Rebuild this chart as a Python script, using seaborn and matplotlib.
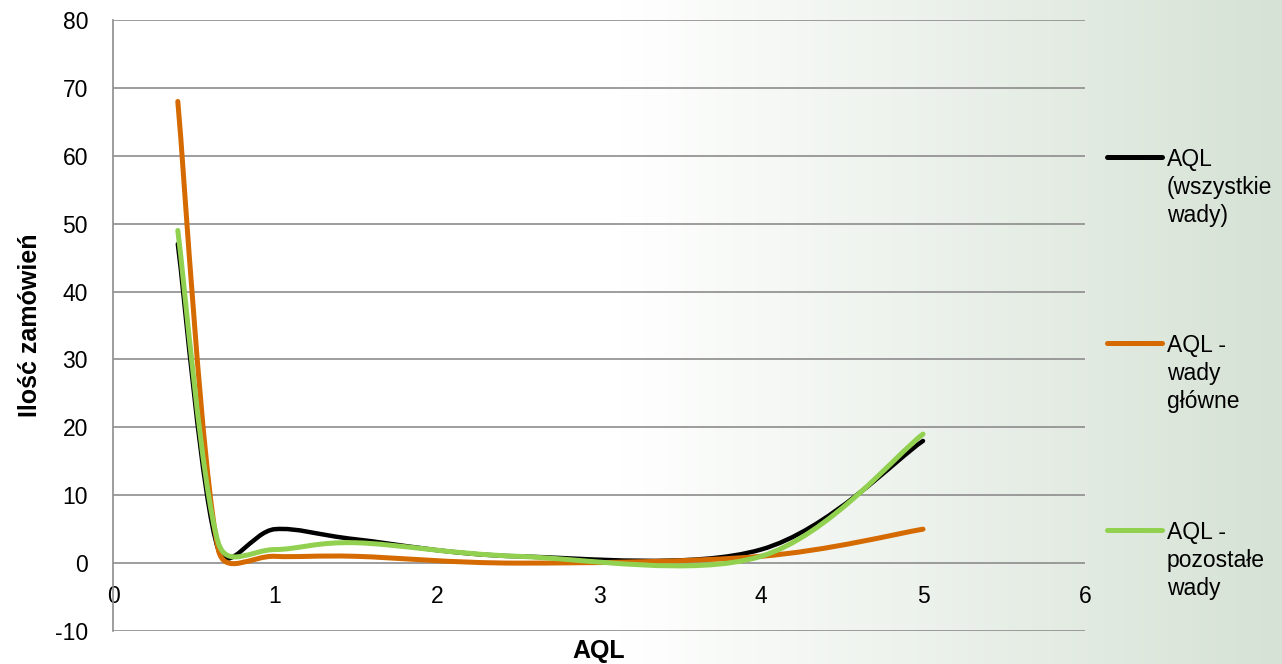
import numpy as np
import pandas as pd
import matplotlib
matplotlib.use("Agg")
import matplotlib.pyplot as plt
import seaborn as sns
from matplotlib.path import Path
from matplotlib.patches import PathPatch
from matplotlib.lines import Line2D

# data
aql = [0.4, 0.65, 1.0, 1.5, 2.5, 4.0, 5.0]
wszystkie = [47, 2, 5, 3.5, 1, 2, 18]
glowne = [68, 2, 1, 1, 0, 1, 5]
pozostale = [49, 3, 2, 3, 1, 1, 19]

series_names = ["AQL\n(wszystkie\nwady)", "AQL -\nwady\ngłówne", "AQL -\npozostałe\nwady"]
series_colors = ["#000000", "#D46A00", "#92D050"]
y_ticks = list(range(-10, 90, 10))
x_ticks = list(range(0, 7))

df = pd.DataFrame({"AQL": aql * 3,
                   "value": wszystkie + glowne + pozostale,
                   "series": sum([[s] * len(aql) for s in series_names], [])})

sns.set_theme(style="white")
plt.rcParams['font.family'] = ['Liberation Sans', 'DejaVu Sans']
plt.rcParams['axes.unicode_minus'] = False
plt.rcParams['text.color'] = 'black'
plt.rcParams['axes.labelcolor'] = 'black'

W, H = 1282, 664
fig = plt.figure(figsize=(W / 100, H / 100), dpi=100)

# gradient background (white -> pale green on the right)
bg = fig.add_axes([0, 0, 1, 1], zorder=-10)
xs = np.linspace(0, 1, W)
frac = np.clip((xs * W - 620) / (W - 620), 0, 1)
start = np.array([255, 255, 255]) / 255
end = np.array([214, 226, 213]) / 255
grad = start[None, :] * (1 - frac[:, None]) + end[None, :] * frac[:, None]
bg.imshow(grad[None, :, :], aspect='auto', extent=[0, 1, 0, 1])
bg.axis('off')

ax = fig.add_axes([113 / W, 33 / H, (1085 - 113) / W, (631 - 20) / H])
ax.set_facecolor('none')
ax.set_xlim(0, 6)
ax.set_ylim(-10, 80)
ax.set_yticks(y_ticks)
ax.set_xticks(x_ticks)
ax.yaxis.grid(True, color='#8c8c8c', linewidth=1.2)
ax.xaxis.grid(False)
ax.set_axisbelow(True)
for s in ['top', 'right']:
    ax.spines[s].set_visible(False)
ax.spines['left'].set_color('#8c8c8c')
ax.spines['left'].set_linewidth(1.2)
ax.spines['bottom'].set_position(('data', 0))
ax.spines['bottom'].set_visible(False)
ax.tick_params(axis='x', length=0, pad=16, labelsize=16.5, colors='black')
ax.tick_params(axis='y', length=0, pad=18, labelsize=16.5, colors='black')
ax.set_ylabel('Ilość zamówień', fontsize=18, fontweight='bold', labelpad=9)
ax.set_xlabel('')
fig.text(599 / W, 1 - 651 / H, 'AQL', fontsize=18, fontweight='bold', ha='center', va='center')


def smooth_path(ax, xv, yv):
    # Excel-like smoothed line: cubic bezier through the points
    pts = ax.transData.transform(np.column_stack([xv, yv]))
    n = len(pts)
    verts = [pts[0]]
    codes = [Path.MOVETO]
    for i in range(n - 1):
        p0 = pts[i - 1] if i > 0 else pts[i]
        p1 = pts[i]
        p2 = pts[i + 1]
        p3 = pts[i + 2] if i + 2 < n else pts[i + 1]
        d02 = np.linalg.norm(p2 - p0)
        d12 = np.linalg.norm(p2 - p1)
        d13 = np.linalg.norm(p3 - p1)
        f = g = 1 / 6
        if d02 / 6 >= d12 / 2 and d02 > 0:
            f = d12 / d02 / 2
        if d13 / 6 >= d12 / 2 and d13 > 0:
            g = d12 / d13 / 2
        c1 = p1 + (p2 - p0) * f
        c2 = p2 - (p3 - p1) * g
        verts += [c1, c2, p2]
        codes += [Path.CURVE4] * 3
    verts = ax.transData.inverted().transform(np.array(verts))
    return Path(verts, codes)


widths = [3.2, 3.6, 3.6]
for (name, grp), color, lw in zip(df.groupby('series', sort=False), series_colors, widths):
    path = smooth_path(ax, grp['AQL'].values, grp['value'].values)
    ax.add_patch(PathPatch(path, fill=False, edgecolor=color, linewidth=lw,
                           capstyle='round', joinstyle='round', zorder=3))

# legend on the right
legend_y = [157, 343, 530]
for name, color, yy in zip(series_names, series_colors, legend_y):
    fig.add_artist(Line2D([1107 / W, 1162 / W], [1 - yy / H, 1 - yy / H],
                          color=color, linewidth=3.6, solid_capstyle='round'))
    fig.text(1167 / W, 1 - (yy - 9) / H, name, fontsize=16.5, ha='left', va='top',
             linespacing=1.28)

fig.savefig('out.png', dpi=100)
